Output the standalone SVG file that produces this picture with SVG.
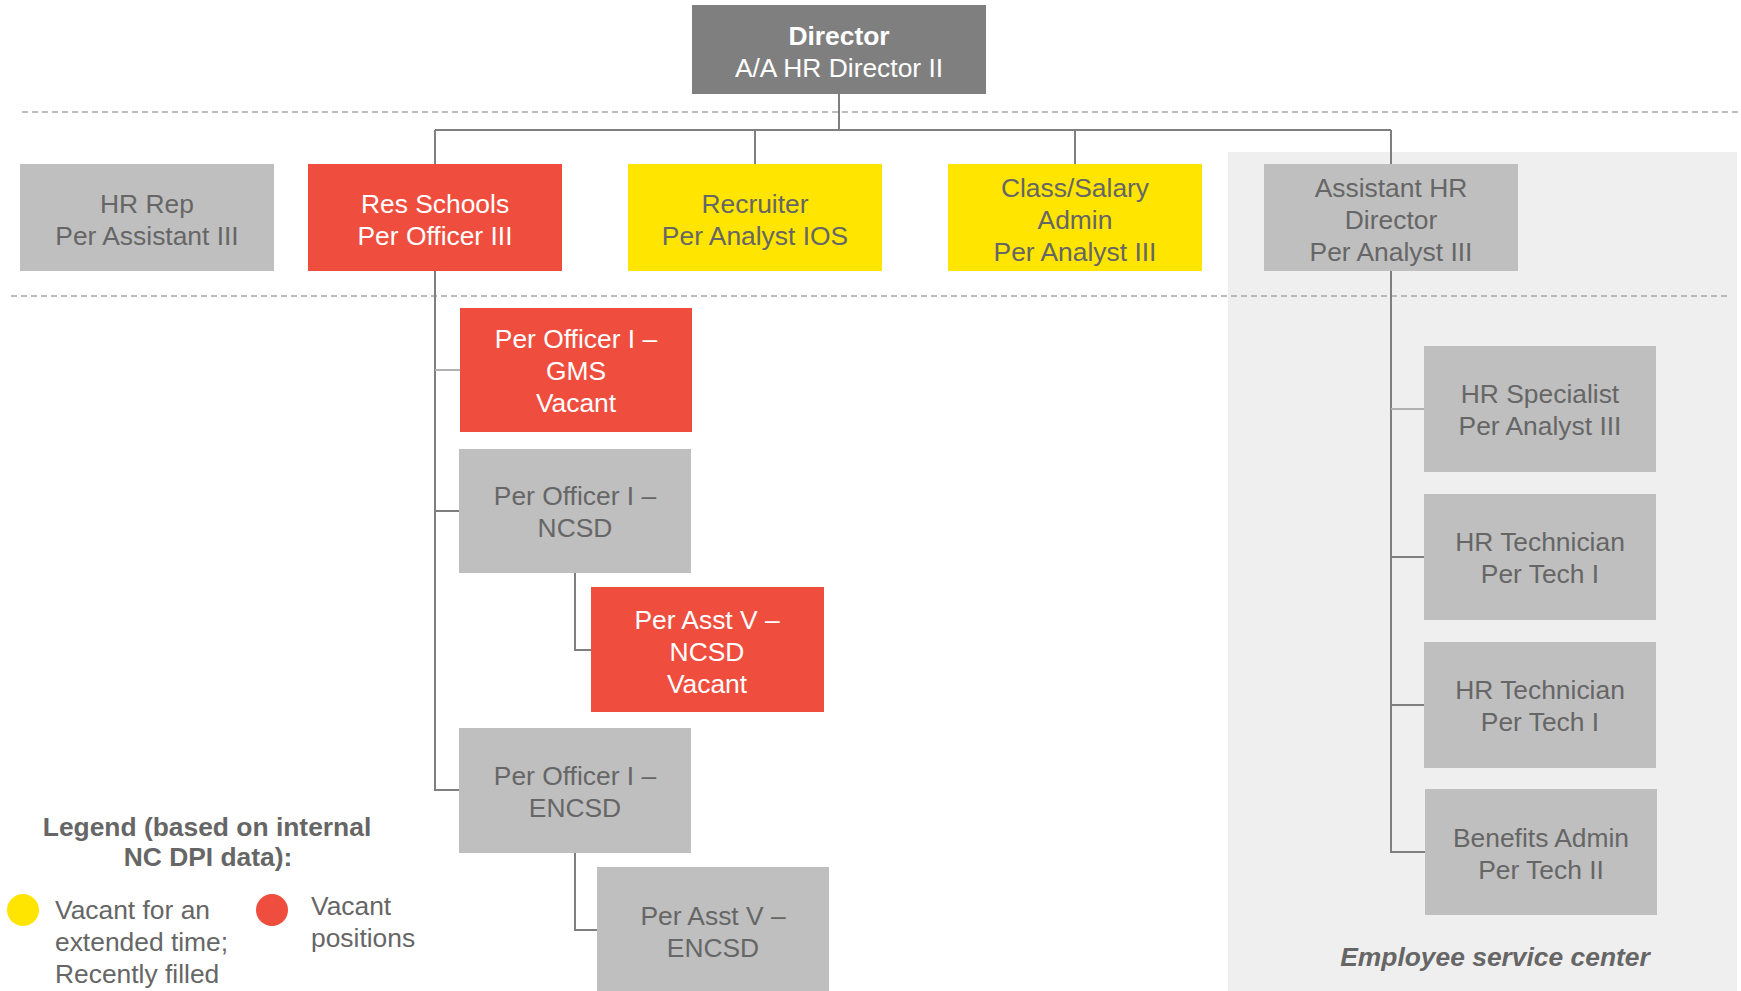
<svg xmlns="http://www.w3.org/2000/svg" width="1741" height="991" viewBox="0 0 1741 991">
<style>
text{font-family:"Liberation Sans",Arial,sans-serif;font-size:26.4px;text-anchor:middle}
.g rect{fill:#bfbfbf}.g text{fill:#666666}
.r rect{fill:#ef4e3f}.r text{fill:#ffffff}
.y rect{fill:#ffe500}.y text{fill:#666666}
.d rect{fill:#7f7f7f}.d text{fill:#ffffff}
.dash{stroke:#a6a6a6;stroke-width:1.5;stroke-dasharray:6,4;fill:none}
.c{stroke:#7f7f7f;stroke-width:2;fill:none}
.cl{stroke:#b0b0b0;stroke-width:2;fill:none}
.lg{fill:#666666}
</style>
<rect id="esc-panel" x="1228" y="152" width="509" height="839" fill="#efefef"/>
<g id="separators">
<line class="dash" x1="22" y1="112" x2="1741" y2="112"/>
<line class="dash" x1="11" y1="296" x2="1730" y2="296"/>
</g>
<g id="connectors">
<path class="c" d="M839 94V130M435 130H1391M435 130V164M755 130V164M1075 130V164M1391 130V164"/>
<path class="c" d="M435 271V790H459M435 511H459"/>
<path class="cl" d="M435 370H460"/>
<path class="c" d="M575 573V650H591M575 853V930H597"/>
<path class="c" d="M1391 271V852H1425M1391 557H1424M1391 705H1424"/>
<path class="cl" d="M1391 409H1424"/>
</g>
<g id="director" class="d"><rect x="692" y="5" width="294" height="89"/><text x="839" y="45" font-weight="bold">Director</text><text x="839" y="77">A/A HR Director II</text></g>
<g id="hr-rep" class="g"><rect x="20" y="164" width="254" height="107"/><text x="147" y="213">HR Rep</text><text x="147" y="245">Per Assistant III</text></g>
<g id="res-schools" class="r"><rect x="308" y="164" width="254" height="107"/><text x="435" y="213">Res Schools</text><text x="435" y="245">Per Officer III</text></g>
<g id="recruiter" class="y"><rect x="628" y="164" width="254" height="107"/><text x="755" y="213">Recruiter</text><text x="755" y="245">Per Analyst IOS</text></g>
<g id="class-salary" class="y"><rect x="948" y="164" width="254" height="107"/><text x="1075" y="197">Class/Salary</text><text x="1075" y="229">Admin</text><text x="1075" y="261">Per Analyst III</text></g>
<g id="asst-hr-director" class="g"><rect x="1264" y="164" width="254" height="107"/><text x="1391" y="197">Assistant HR</text><text x="1391" y="229">Director</text><text x="1391" y="261">Per Analyst III</text></g>
<g id="per-officer-gms" class="r"><rect x="460" y="308" width="232" height="124"/><text x="576" y="348">Per Officer I –</text><text x="576" y="380">GMS</text><text x="576" y="412">Vacant</text></g>
<g id="per-officer-ncsd" class="g"><rect x="459" y="449" width="232" height="124"/><text x="575" y="505">Per Officer I –</text><text x="575" y="537">NCSD</text></g>
<g id="per-asst-ncsd" class="r"><rect x="591" y="587" width="233" height="125"/><text x="707" y="629">Per Asst V –</text><text x="707" y="661">NCSD</text><text x="707" y="693">Vacant</text></g>
<g id="per-officer-encsd" class="g"><rect x="459" y="728" width="232" height="125"/><text x="575" y="785">Per Officer I –</text><text x="575" y="817">ENCSD</text></g>
<g id="per-asst-encsd" class="g"><rect x="597" y="867" width="232" height="124"/><text x="713" y="925">Per Asst V –</text><text x="713" y="957">ENCSD</text></g>
<g id="hr-specialist" class="g"><rect x="1424" y="346" width="232" height="126"/><text x="1540" y="403">HR Specialist</text><text x="1540" y="435">Per Analyst III</text></g>
<g id="hr-tech-1" class="g"><rect x="1424" y="494" width="232" height="126"/><text x="1540" y="551">HR Technician</text><text x="1540" y="583">Per Tech I</text></g>
<g id="hr-tech-2" class="g"><rect x="1424" y="642" width="232" height="126"/><text x="1540" y="699">HR Technician</text><text x="1540" y="731">Per Tech I</text></g>
<g id="benefits-admin" class="g"><rect x="1425" y="789" width="232" height="126"/><text x="1541" y="847">Benefits Admin</text><text x="1541" y="879">Per Tech II</text></g>
<text id="esc-label" class="lg" x="1495" y="966" font-weight="bold" font-style="italic">Employee service center</text>
<g id="legend">
<text class="lg" x="207" y="836" font-weight="bold">Legend (based on internal</text>
<text class="lg" x="208" y="866" font-weight="bold">NC DPI data):</text>
<circle cx="23" cy="910" r="16" fill="#ffe500"/>
<circle cx="272" cy="910" r="16" fill="#ef4e3f"/>
<text class="lg" x="55" y="919" style="text-anchor:start">Vacant for an</text>
<text class="lg" x="55" y="951" style="text-anchor:start">extended time;</text>
<text class="lg" x="55" y="983" style="text-anchor:start">Recently filled</text>
<text class="lg" x="311" y="915" style="text-anchor:start">Vacant</text>
<text class="lg" x="311" y="947" style="text-anchor:start">positions</text>
</g>
</svg>
